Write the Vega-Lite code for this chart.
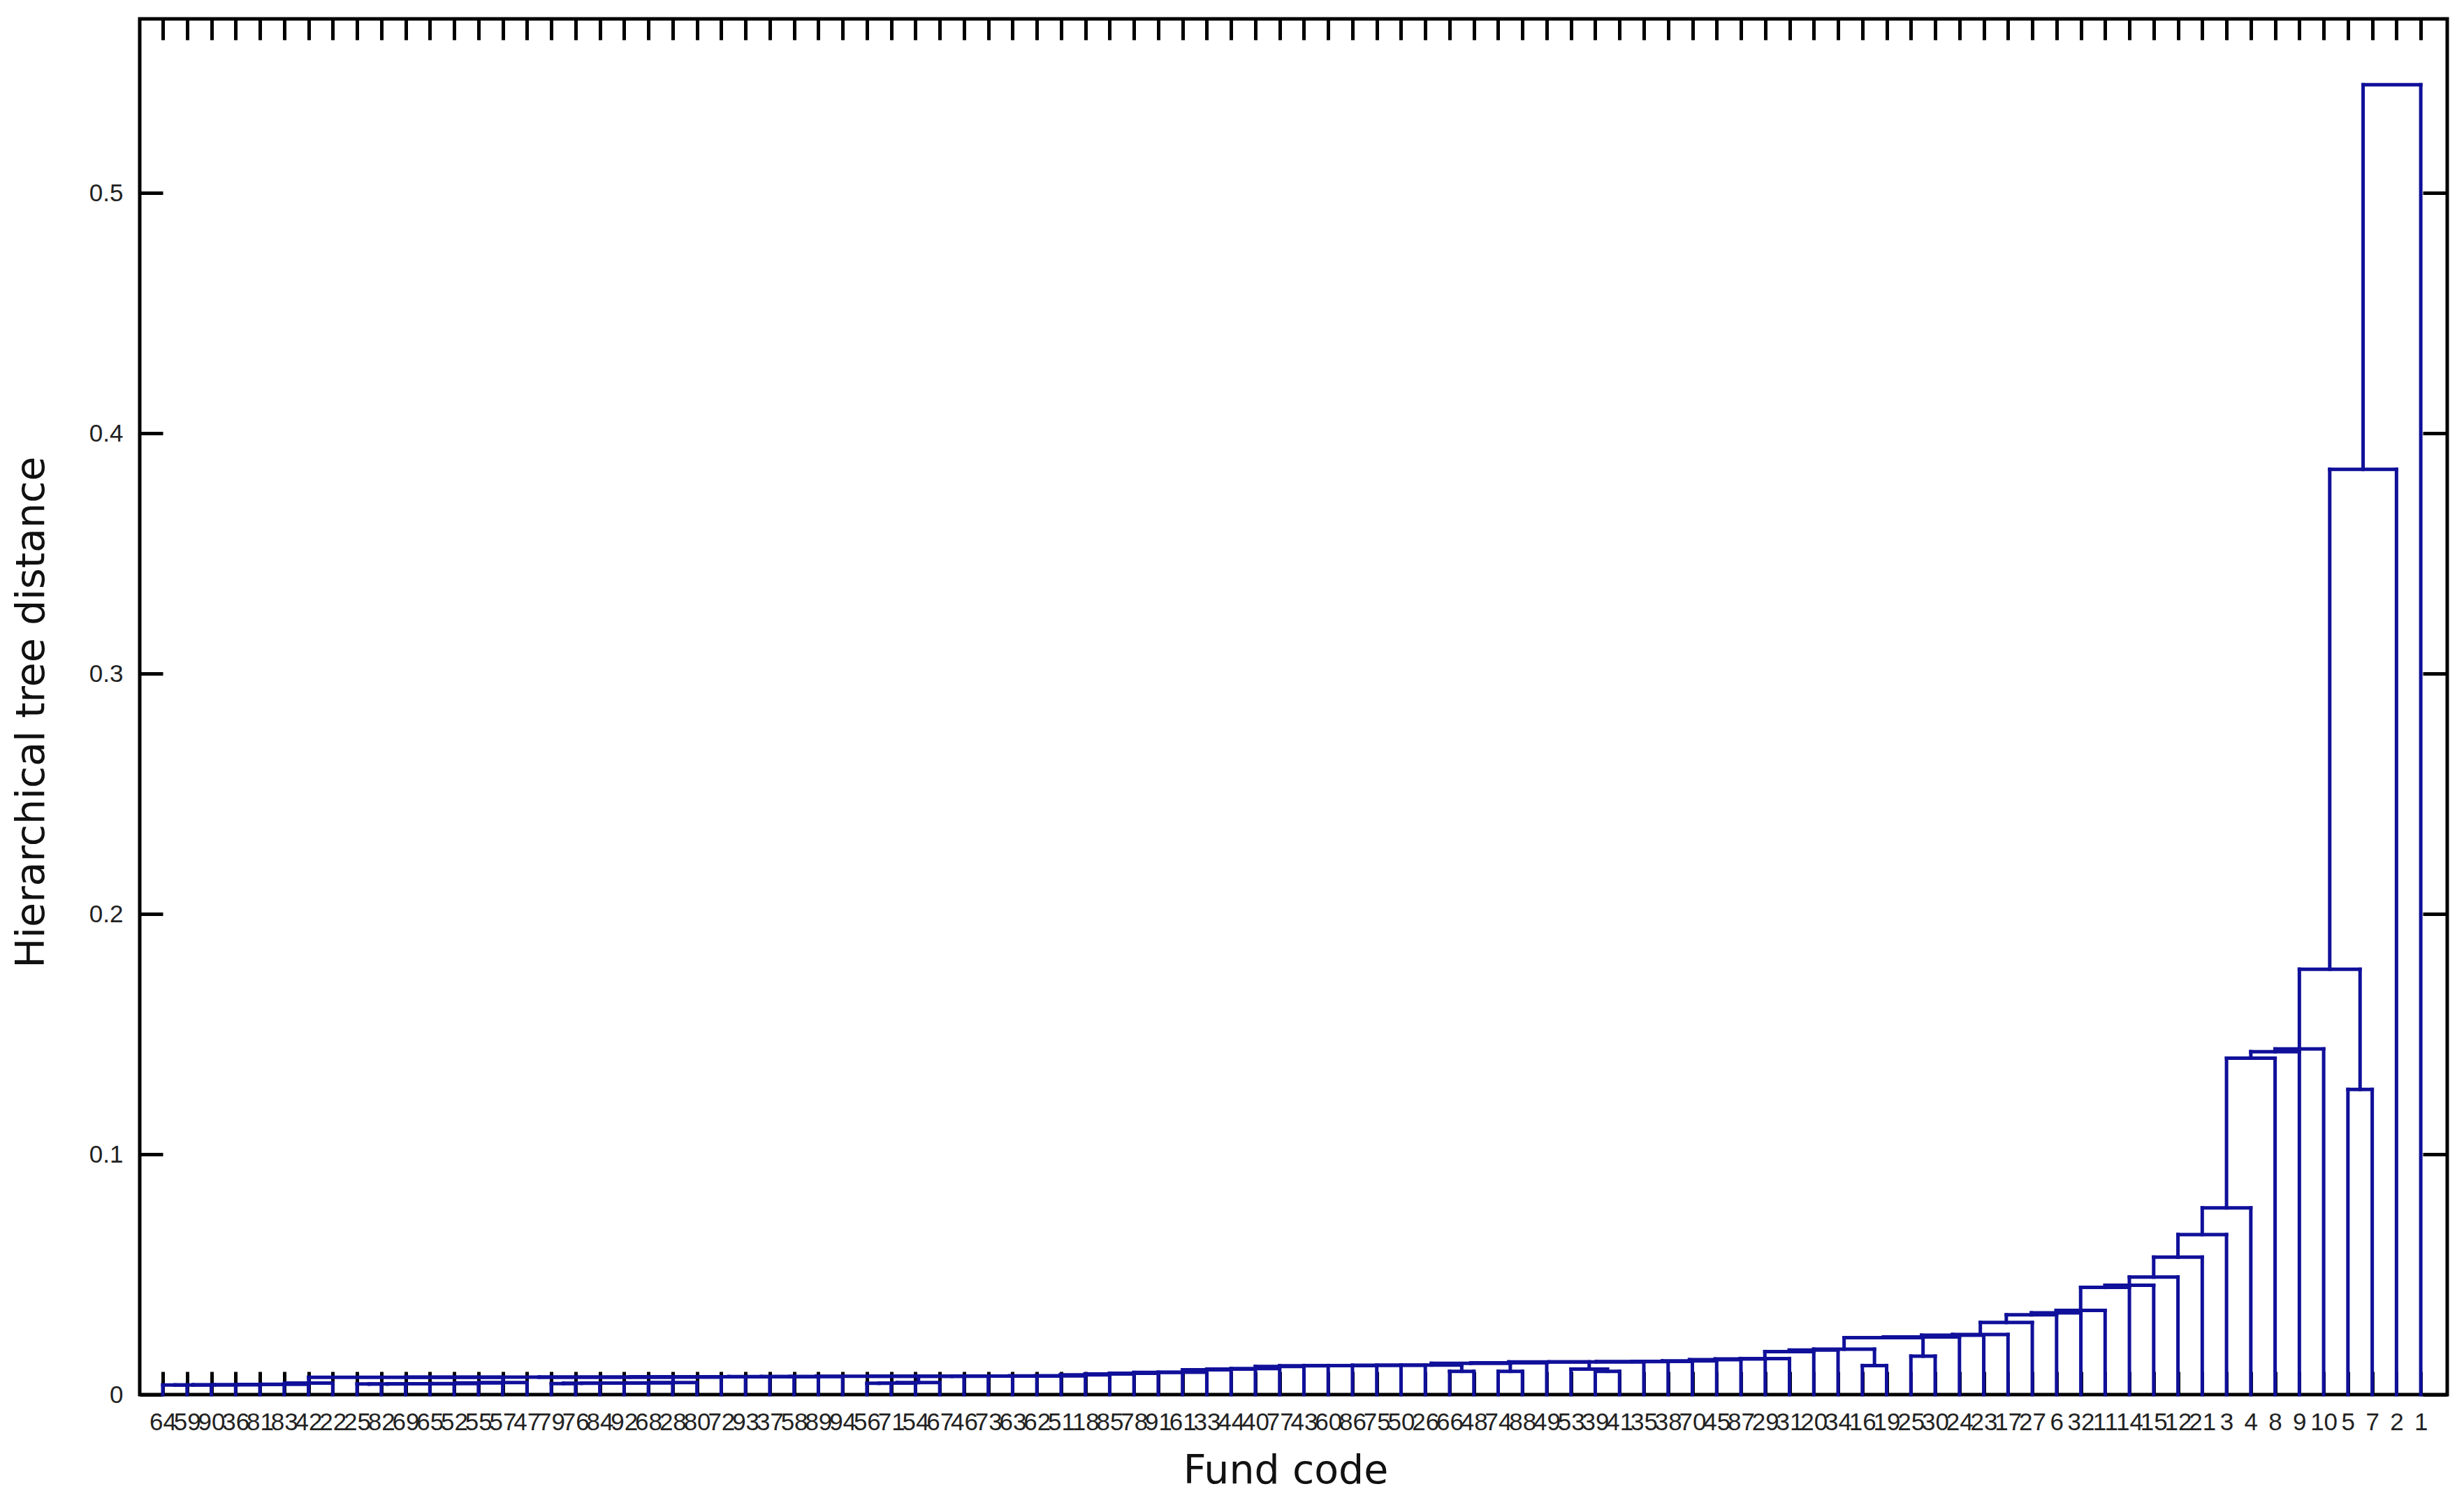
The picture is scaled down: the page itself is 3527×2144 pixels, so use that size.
{
  "$schema": "https://vega.github.io/schema/vega-lite/v6.json",
  "width": 3303,
  "height": 1969,
  "autosize": "none",
  "padding": {"left": 200, "top": 27, "right": 24, "bottom": 148},
  "background": "white",
  "config": {
    "view": {"stroke": "black", "strokeWidth": 5},
    "axis": {"domain": false, "grid": false, "labelFont": "Liberation Sans", "labelFontSize": 35, "labelColor": "#222222", "tickColor": "black", "tickWidth": 5, "titleFont": "DejaVu Sans", "titleFontSize": 57, "titleFontWeight": "normal", "titleColor": "#111111"}
  },
  "data": {"values": [
    {"a":1,"b":2,"h":0.0040,"ha":0,"hb":0},
    {"a":1.5,"b":3,"h":0.0040,"ha":0.0040,"hb":0},
    {"a":2.25,"b":4,"h":0.0041,"ha":0.0040,"hb":0},
    {"a":3.125,"b":5,"h":0.0041,"ha":0.0041,"hb":0},
    {"a":4.0625,"b":6,"h":0.0042,"ha":0.0041,"hb":0},
    {"a":5.0313,"b":7,"h":0.0043,"ha":0.0042,"hb":0},
    {"a":6.0156,"b":8,"h":0.0048,"ha":0.0043,"hb":0},
    {"a":9,"b":10,"h":0.0044,"ha":0,"hb":0},
    {"a":9.5,"b":11,"h":0.0044,"ha":0.0044,"hb":0},
    {"a":10.25,"b":12,"h":0.0045,"ha":0.0044,"hb":0},
    {"a":11.125,"b":13,"h":0.0045,"ha":0.0045,"hb":0},
    {"a":12.0625,"b":14,"h":0.0046,"ha":0.0045,"hb":0},
    {"a":13.0313,"b":15,"h":0.0049,"ha":0.0046,"hb":0},
    {"a":14.0156,"b":16,"h":0.0050,"ha":0.0049,"hb":0},
    {"a":7.0078,"b":15.0078,"h":0.0072,"ha":0.0048,"hb":0.0050},
    {"a":17,"b":18,"h":0.0046,"ha":0,"hb":0},
    {"a":17.5,"b":19,"h":0.0047,"ha":0.0046,"hb":0},
    {"a":18.25,"b":20,"h":0.0048,"ha":0.0047,"hb":0},
    {"a":19.125,"b":21,"h":0.0048,"ha":0.0048,"hb":0},
    {"a":20.0625,"b":22,"h":0.0049,"ha":0.0048,"hb":0},
    {"a":21.0313,"b":23,"h":0.0050,"ha":0.0049,"hb":0},
    {"a":11.0078,"b":22.0156,"h":0.0073,"ha":0.0072,"hb":0.0050},
    {"a":16.5117,"b":24,"h":0.0073,"ha":0.0073,"hb":0},
    {"a":20.2559,"b":25,"h":0.0074,"ha":0.0073,"hb":0},
    {"a":22.6279,"b":26,"h":0.0074,"ha":0.0074,"hb":0},
    {"a":24.314,"b":27,"h":0.0075,"ha":0.0074,"hb":0},
    {"a":25.657,"b":28,"h":0.0075,"ha":0.0075,"hb":0},
    {"a":26.8285,"b":29,"h":0.0075,"ha":0.0075,"hb":0},
    {"a":30,"b":31,"h":0.0047,"ha":0,"hb":0},
    {"a":30.5,"b":32,"h":0.0048,"ha":0.0047,"hb":0},
    {"a":31.25,"b":33,"h":0.0050,"ha":0.0048,"hb":0},
    {"a":27.9142,"b":32.125,"h":0.0076,"ha":0.0075,"hb":0.0050},
    {"a":30.0196,"b":34,"h":0.0076,"ha":0.0076,"hb":0},
    {"a":32.0098,"b":35,"h":0.0076,"ha":0.0076,"hb":0},
    {"a":33.5049,"b":36,"h":0.0077,"ha":0.0076,"hb":0},
    {"a":34.7525,"b":37,"h":0.0077,"ha":0.0077,"hb":0},
    {"a":35.8762,"b":38,"h":0.0078,"ha":0.0077,"hb":0},
    {"a":36.9381,"b":39,"h":0.0078,"ha":0.0078,"hb":0},
    {"a":37.9691,"b":40,"h":0.0082,"ha":0.0078,"hb":0},
    {"a":38.9845,"b":41,"h":0.0086,"ha":0.0082,"hb":0},
    {"a":39.9923,"b":42,"h":0.0089,"ha":0.0086,"hb":0},
    {"a":40.9961,"b":43,"h":0.0092,"ha":0.0089,"hb":0},
    {"a":41.9981,"b":44,"h":0.0093,"ha":0.0092,"hb":0},
    {"a":42.999,"b":45,"h":0.0103,"ha":0.0093,"hb":0},
    {"a":43.9995,"b":46,"h":0.0106,"ha":0.0103,"hb":0},
    {"a":44.9998,"b":47,"h":0.0108,"ha":0.0106,"hb":0},
    {"a":45.9999,"b":48,"h":0.0117,"ha":0.0108,"hb":0},
    {"a":47,"b":49,"h":0.0120,"ha":0.0117,"hb":0},
    {"a":48,"b":50,"h":0.0121,"ha":0.0120,"hb":0},
    {"a":49,"b":51,"h":0.0121,"ha":0.0121,"hb":0},
    {"a":50,"b":52,"h":0.0122,"ha":0.0121,"hb":0},
    {"a":51,"b":53,"h":0.0122,"ha":0.0122,"hb":0},
    {"a":54,"b":55,"h":0.0097,"ha":0,"hb":0},
    {"a":52,"b":54.5,"h":0.0123,"ha":0.0122,"hb":0.0097},
    {"a":56,"b":57,"h":0.0097,"ha":0,"hb":0},
    {"a":53.25,"b":56.5,"h":0.0130,"ha":0.0123,"hb":0.0097},
    {"a":54.875,"b":58,"h":0.0132,"ha":0.0130,"hb":0},
    {"a":60,"b":61,"h":0.0097,"ha":0,"hb":0},
    {"a":59,"b":60.5,"h":0.0106,"ha":0,"hb":0.0097},
    {"a":56.4375,"b":59.75,"h":0.0136,"ha":0.0132,"hb":0.0106},
    {"a":58.0938,"b":62,"h":0.0136,"ha":0.0136,"hb":0},
    {"a":60.0469,"b":63,"h":0.0137,"ha":0.0136,"hb":0},
    {"a":61.5234,"b":64,"h":0.0138,"ha":0.0137,"hb":0},
    {"a":62.7617,"b":65,"h":0.0140,"ha":0.0138,"hb":0},
    {"a":63.8809,"b":66,"h":0.0145,"ha":0.0140,"hb":0},
    {"a":64.9404,"b":67,"h":0.0148,"ha":0.0145,"hb":0},
    {"a":65.9702,"b":68,"h":0.0150,"ha":0.0148,"hb":0},
    {"a":66.9851,"b":69,"h":0.0179,"ha":0.0150,"hb":0},
    {"a":67.9926,"b":70,"h":0.0185,"ha":0.0179,"hb":0},
    {"a":71,"b":72,"h":0.0121,"ha":0,"hb":0},
    {"a":68.9963,"b":71.5,"h":0.0189,"ha":0.0185,"hb":0.0121},
    {"a":73,"b":74,"h":0.0160,"ha":0,"hb":0},
    {"a":70.2481,"b":73.5,"h":0.0237,"ha":0.0189,"hb":0.0160},
    {"a":71.8741,"b":75,"h":0.0240,"ha":0.0237,"hb":0},
    {"a":73.437,"b":76,"h":0.0247,"ha":0.0240,"hb":0},
    {"a":74.7185,"b":77,"h":0.0250,"ha":0.0247,"hb":0},
    {"a":75.8593,"b":78,"h":0.0300,"ha":0.0250,"hb":0},
    {"a":76.9296,"b":79,"h":0.0332,"ha":0.0300,"hb":0},
    {"a":77.9648,"b":80,"h":0.0340,"ha":0.0332,"hb":0},
    {"a":78.9824,"b":81,"h":0.0350,"ha":0.0340,"hb":0},
    {"a":79.9912,"b":82,"h":0.0446,"ha":0.0350,"hb":0},
    {"a":80.9956,"b":83,"h":0.0455,"ha":0.0446,"hb":0},
    {"a":81.9978,"b":84,"h":0.0489,"ha":0.0455,"hb":0},
    {"a":82.9989,"b":85,"h":0.0572,"ha":0.0489,"hb":0},
    {"a":83.9995,"b":86,"h":0.0666,"ha":0.0572,"hb":0},
    {"a":84.9997,"b":87,"h":0.0777,"ha":0.0666,"hb":0},
    {"a":86,"b":88,"h":0.1400,"ha":0.0777,"hb":0},
    {"a":87,"b":89,"h":0.1427,"ha":0.1400,"hb":0},
    {"a":88,"b":90,"h":0.1438,"ha":0.1427,"hb":0},
    {"a":91,"b":92,"h":0.1270,"ha":0,"hb":0},
    {"a":89,"b":91.5,"h":0.1770,"ha":0.1438,"hb":0.1270},
    {"a":90.25,"b":93,"h":0.3850,"ha":0.1770,"hb":0},
    {"a":91.625,"b":94,"h":0.5450,"ha":0.3850,"hb":0}
  ]},
  "layer": [
    {
      "mark": {"type": "rule", "color": "#10109a", "strokeWidth": 5, "strokeCap": "square"},
      "encoding": {
        "x": {"field": "a", "type": "quantitative", "scale": {"domain": [0.05, 95.09], "nice": false, "zero": false},
          "axis": {"orient": "bottom", "values": [1,2,3,4,5,6,7,8,9,10,11,12,13,14,15,16,17,18,19,20,21,22,23,24,25,26,27,28,29,30,31,32,33,34,35,36,37,38,39,40,41,42,43,44,45,46,47,48,49,50,51,52,53,54,55,56,57,58,59,60,61,62,63,64,65,66,67,68,69,70,71,72,73,74,75,76,77,78,79,80,81,82,83,84,85,86,87,88,89,90,91,92,93,94],
            "labelExpr": "['64','59','90','36','81','83','42','22','25','82','69','65','52','55','57','47','79','76','84','92','68','28','80','72','93','37','58','89','94','56','71','54','67','46','73','63','62','51','18','85','78','91','61','33','44','40','77','43','60','86','75','50','26','66','48','74','88','49','53','39','41','35','38','70','45','87','29','31','20','34','16','19','25','30','24','23','17','27','6','32','11','14','15','12','21','3','4','8','9','10','5','7','2','1'][datum.value - 1]",
            "ticks": false, "labelPadding": 22, "labelOverlap": false, "labelFlush": false, "labelBound": false,
            "title": "Fund code", "titleX": 1640, "titleY": 126, "titleBaseline": "alphabetic", "titleAnchor": "middle"}},
        "x2": {"field": "b"},
        "y": {"field": "h", "type": "quantitative", "scale": {"domain": [0, 0.5724], "nice": false, "zero": false},
          "axis": {"orient": "left", "values": [0, 0.1, 0.2, 0.3, 0.4, 0.5], "format": ".1~f", "ticks": false, "labelPadding": 24,
            "title": "Hierarchical tree distance", "titleX": -155, "titleY": 992, "titleBaseline": "middle", "titleAnchor": "middle"}}
      }
    },
    {
      "mark": {"type": "rule", "color": "#10109a", "strokeWidth": 5, "strokeCap": "square"},
      "encoding": {
        "x": {"field": "a", "type": "quantitative", "scale": {"domain": [0.05, 95.09], "nice": false, "zero": false},
          "axis": {"orient": "top", "values": [1,2,3,4,5,6,7,8,9,10,11,12,13,14,15,16,17,18,19,20,21,22,23,24,25,26,27,28,29,30,31,32,33,34,35,36,37,38,39,40,41,42,43,44,45,46,47,48,49,50,51,52,53,54,55,56,57,58,59,60,61,62,63,64,65,66,67,68,69,70,71,72,73,74,75,76,77,78,79,80,81,82,83,84,85,86,87,88,89,90,91,92,93,94],
            "labels": false, "tickSize": -30, "title": null}},
        "y": {"field": "ha", "type": "quantitative", "scale": {"domain": [0, 0.5724], "nice": false, "zero": false},
          "axis": {"orient": "right", "values": [0, 0.1, 0.2, 0.3, 0.4, 0.5], "labels": false, "tickSize": -35, "title": null}},
        "y2": {"field": "h"}
      }
    },
    {
      "mark": {"type": "rule", "color": "#10109a", "strokeWidth": 5, "strokeCap": "square"},
      "encoding": {
        "x": {"field": "b", "type": "quantitative", "scale": {"domain": [0.05, 95.09], "nice": false, "zero": false},
          "axis": {"orient": "bottom", "values": [1,2,3,4,5,6,7,8,9,10,11,12,13,14,15,16,17,18,19,20,21,22,23,24,25,26,27,28,29,30,31,32,33,34,35,36,37,38,39,40,41,42,43,44,45,46,47,48,49,50,51,52,53,54,55,56,57,58,59,60,61,62,63,64,65,66,67,68,69,70,71,72,73,74,75,76,77,78,79,80,81,82,83,84,85,86,87,88,89,90,91,92,93,94],
            "labels": false, "tickSize": -33, "title": null}},
        "y": {"field": "hb", "type": "quantitative", "scale": {"domain": [0, 0.5724], "nice": false, "zero": false},
          "axis": {"orient": "left", "values": [0, 0.1, 0.2, 0.3, 0.4, 0.5], "labels": false, "tickSize": -33, "title": null}},
        "y2": {"field": "h"}
      }
    }
  ],
  "resolve": {"axis": {"x": "independent", "y": "independent"}}
}
